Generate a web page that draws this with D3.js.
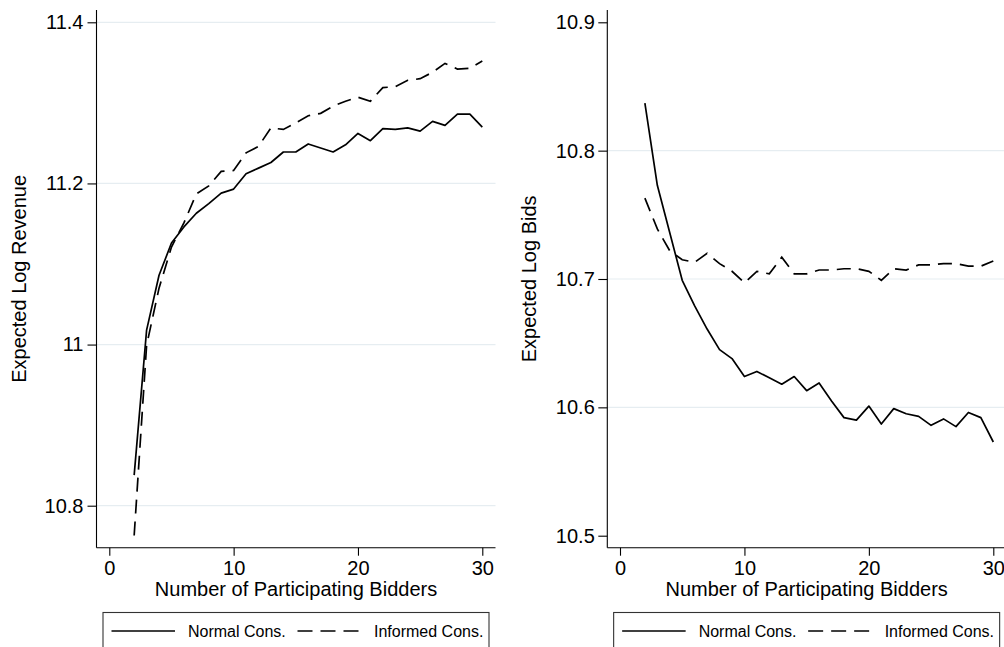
<!DOCTYPE html>
<html>
<head>
<meta charset="utf-8">
<script src="https://cdn.jsdelivr.net/npm/d3@7"></script>
<style>
  body { margin: 0; background: #fff; }
  svg { display: block; font-family: "Liberation Sans", Arial, sans-serif; }
</style>
</head>
<body>
<div id="chart"></div>
<script>
// number of participating bidders
const bidders = [2, 3, 4, 5, 6, 7, 8, 9, 10, 11, 12, 13, 14, 15, 16, 17, 18, 19, 20, 21, 22, 23, 24, 25, 26, 27, 28, 29, 30];

// left panel: expected log revenue
const revenueNormal = [10.838, 11.018, 11.086, 11.126, 11.146, 11.163, 11.175, 11.188, 11.193, 11.212,
  11.219, 11.226, 11.239, 11.239, 11.249, 11.244, 11.239, 11.248, 11.262, 11.253,
  11.268, 11.267, 11.269, 11.265, 11.277, 11.272, 11.286, 11.286, 11.270];
const revenueInformed = [10.763, 10.999, 11.070, 11.121, 11.151, 11.187, 11.197, 11.215, 11.216, 11.238,
  11.246, 11.269, 11.267, 11.275, 11.284, 11.287, 11.296, 11.302, 11.307, 11.302,
  11.319, 11.320, 11.328, 11.330, 11.338, 11.349, 11.342, 11.343, 11.352];

// right panel: expected log bids
const bidsNormal = [10.837, 10.773, 10.736, 10.699, 10.679, 10.661, 10.645, 10.638, 10.624, 10.628,
  10.623, 10.618, 10.624, 10.613, 10.619, 10.605, 10.592, 10.590, 10.601, 10.587,
  10.599, 10.595, 10.593, 10.586, 10.591, 10.585, 10.596, 10.592, 10.573];
const bidsInformed = [10.763, 10.739, 10.722, 10.715, 10.713, 10.720, 10.712, 10.706, 10.697, 10.706,
  10.704, 10.717, 10.704, 10.704, 10.707, 10.707, 10.708, 10.708, 10.706, 10.699,
  10.708, 10.707, 10.711, 10.711, 10.712, 10.712, 10.710, 10.710, 10.714];

const xTicks = [0, 10, 20, 30];
const revenueTicks = [10.8, 11, 11.2, 11.4];
const revenueGrid = [10.8, 11, 11.2, 11.4];
const bidsTicks = [10.5, 10.6, 10.7, 10.8, 10.9];
const bidsGrid = [10.6, 10.7, 10.8];
const seriesNames = ["Normal Cons.", "Informed Cons."];

const width = 1004, height = 647;
const dash = "14,8";

const svg = d3.select("#chart").append("svg")
  .attr("width", width)
  .attr("height", height);

svg.append("rect").attr("width", width).attr("height", height).attr("fill", "#fff");

function drawPanel(p) {
  const g = svg.append("g");

  const x = d3.scaleLinear().domain([0, 30]).range(p.xRange);
  const y = d3.scaleLinear().domain(p.yDomain).range(p.yRange);

  // grid
  g.selectAll(".grid")
    .data(p.grid)
    .enter().append("line")
    .attr("x1", p.left).attr("x2", p.right)
    .attr("y1", d => y(d)).attr("y2", d => y(d))
    .attr("stroke", "#e6edf1")
    .attr("stroke-width", 1.2);

  // axes
  const yAxis = g.append("g")
    .attr("transform", "translate(" + p.left + ",0)")
    .call(d3.axisLeft(y).tickValues(p.ticks).tickSize(9).tickPadding(p.ypad)
      .tickFormat(d3.format("~g")));
  const xAxis = g.append("g")
    .attr("transform", "translate(0," + p.bottom + ")")
    .call(d3.axisBottom(x).tickValues(xTicks).tickSize(8).tickPadding(5));

  [yAxis, xAxis].forEach(a => {
    a.select(".domain").remove();
    a.selectAll("line").attr("stroke", "#000").attr("stroke-width", 1.1);
    a.selectAll("text").attr("font-size", 20).attr("fill", "#000")
      .attr("font-family", "Liberation Sans, Arial, sans-serif");
  });

  g.append("line")
    .attr("x1", p.left).attr("x2", p.left)
    .attr("y1", p.top).attr("y2", p.bottom)
    .attr("stroke", "#000").attr("stroke-width", 1.1);
  g.append("line")
    .attr("x1", p.left).attr("x2", p.right)
    .attr("y1", p.bottom).attr("y2", p.bottom)
    .attr("stroke", "#000").attr("stroke-width", 1.1);

  // lines
  const line = d3.line()
    .x((d, i) => x(bidders[i]))
    .y(d => y(d));

  g.append("path")
    .datum(p.normal)
    .attr("d", line)
    .attr("fill", "none")
    .attr("stroke", "#000")
    .attr("stroke-width", 1.7)
    .attr("stroke-linejoin", "round");

  g.append("path")
    .datum(p.informed)
    .attr("d", line)
    .attr("fill", "none")
    .attr("stroke", "#000")
    .attr("stroke-width", 1.7)
    .attr("stroke-dasharray", dash);

  // titles
  const midY = (p.top + p.bottom) / 2;
  g.append("text")
    .attr("transform", "translate(" + p.ytitleX + "," + midY + ") rotate(-90)")
    .attr("text-anchor", "middle")
    .attr("font-size", 20)
    .text(p.ytitle);

  g.append("text")
    .attr("x", (p.left + p.right) / 2)
    .attr("y", 595.5)
    .attr("text-anchor", "middle")
    .attr("font-size", 20)
    .text("Number of Participating Bidders");

  // legend
  const lw = 386;
  const lx = (p.left + p.right) / 2 - lw / 2;
  const ly = 612.5;
  const leg = g.append("g").attr("transform", "translate(" + lx + "," + ly + ")");
  leg.append("rect")
    .attr("width", lw).attr("height", 40)
    .attr("fill", "#fff")
    .attr("stroke", "#333")
    .attr("stroke-width", 1.1);

  const items = [
    { name: seriesNames[0], x1: 8.5, x2: 72, tx: 85, dash: null },
    { name: seriesNames[1], x1: 194.5, x2: 256, tx: 271, dash: "15,8" }
  ];
  items.forEach(it => {
    leg.append("line")
      .attr("x1", it.x1).attr("x2", it.x2)
      .attr("y1", 18.5).attr("y2", 18.5)
      .attr("stroke", "#000")
      .attr("stroke-width", 1.7)
      .attr("stroke-dasharray", it.dash);
    leg.append("text")
      .attr("x", it.tx).attr("y", 24.8)
      .attr("font-size", 16)
      .text(it.name);
  });
}

drawPanel({
  left: 96.5, right: 495.5, top: 10, bottom: 547.7,
  xRange: [109.3, 482.3],
  yDomain: [10.8, 11.4], yRange: [505.7, 22.3],
  ticks: revenueTicks, grid: revenueGrid, ypad: 4,
  normal: revenueNormal, informed: revenueInformed,
  ytitle: "Expected Log Revenue", ytitleX: 26
});

drawPanel({
  left: 607.3, right: 1006, top: 10, bottom: 547.7,
  xRange: [620, 993.3],
  yDomain: [10.5, 10.9], yRange: [535.7, 22.3],
  ticks: bidsTicks, grid: bidsGrid, ypad: 3.5,
  normal: bidsNormal, informed: bidsInformed,
  ytitle: "Expected Log Bids", ytitleX: 536
});
</script>
</body>
</html>
